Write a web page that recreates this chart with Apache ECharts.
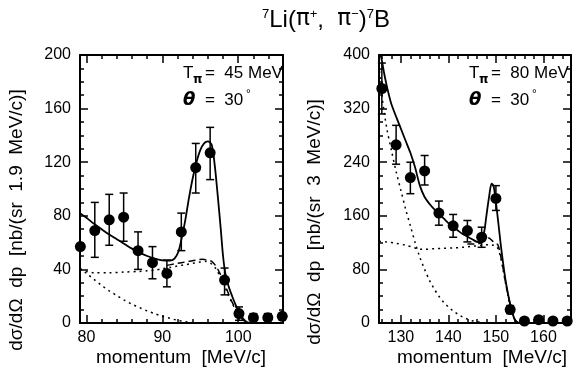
<!DOCTYPE html>
<html>
<head>
<meta charset="utf-8">
<script src="https://cdn.jsdelivr.net/npm/echarts@6/dist/echarts.min.js"></script>
<style>
  html, body { margin: 0; padding: 0; background: #fff; }
  #chart { width: 583px; height: 371px; }
</style>
</head>
<body>
<div id="chart"></div>
<script>
// ---- data ----
// left panel: T_pi = 45 MeV, 1.9 MeV/c bins
const leftMomentum = [79.2, 81.1, 83.0, 84.9, 86.8, 88.7, 90.6, 92.5, 94.4, 96.3, 98.2, 100.1, 102.0, 103.9, 105.8];
const leftCounts   = [57, 69, 77, 79, 54, 45, 37, 68, 116, 127, 32, 7, 4, 4, 5];
const leftErrLo    = [57, 49, 58, 61, 40, 33, 27, 54, 97, 107, 21, 2, 2, 2, 3];
const leftErrHi    = [57, 90, 96, 97, 68, 57, 47, 82, 134, 146, 41, 12, 7, 7, 7];

const leftTotal = [[79.15, 82], [80, 78.5], [81, 74], [82, 70], [83, 66], [84, 62.5], [85, 59], [86, 55.5], [87, 52.5],
  [88, 50], [89, 48], [90, 46.8], [91, 46.5], [91.6, 48], [92.1, 53], [92.5, 62], [93, 76], [93.5, 93], [94, 108],
  [94.5, 120], [95, 129], [95.5, 134], [96, 135.5], [96.5, 133], [96.9, 118], [97.3, 95], [97.7, 70], [98, 50],
  [98.3, 37], [98.7, 28], [99.2, 20], [99.7, 13], [100.2, 7], [100.7, 3], [101.2, 0.5], [101.6, 0]];
const leftDashed = [[90.6, 43], [91.5, 44], [92.5, 45], [93.5, 46], [94.5, 47], [95.3, 47.5], [95.9, 47], [96.5, 46],
  [97, 43], [97.5, 38], [98, 32], [98.5, 25], [99, 18], [99.5, 12], [100, 7], [100.5, 3], [101, 1], [101.5, 0]];
const leftFlat = [[79.15, 40], [80, 38.5], [81, 37.5], [83, 37.5], [85, 38], [87, 38.5], [88, 39], [89, 39.5], [90, 40.5],
  [91, 41.5], [92, 42.5], [93, 43.5], [94, 44.5], [95, 45.5], [95.8, 46], [96.5, 44], [97, 41], [97.5, 36], [98, 30],
  [98.5, 23.5], [99, 17], [99.5, 11.5], [100, 6.5], [100.5, 3], [101, 1], [101.5, 0]];
const leftFalling = [[79.15, 41], [80, 37], [81, 32.5], [82, 28], [83, 24], [84, 20.5], [85, 17], [86, 14], [87, 11.5],
  [88, 9], [89, 7], [90, 5], [91, 3.5], [92, 2], [93, 1], [94, 0.3], [95, 0]];

// right panel: T_pi = 80 MeV, 3 MeV/c bins
const rightMomentum = [126, 129, 132, 135, 138, 141, 144, 147, 150, 153, 156, 159, 162, 165];
const rightCounts   = [350, 266, 217, 227, 164, 145, 138, 128, 186, 20, 3, 5, 3, 3];
const rightErrLo    = [312, 237, 193, 206, 146, 128, 121, 113, 168, 14, 3, 5, 3, 3];
const rightErrHi    = [388, 295, 240, 250, 182, 162, 153, 143, 205, 26, 3, 5, 3, 3];

const rightTotal = [[125.4, 410], [126, 392], [126.5, 372], [127, 355], [127.5, 340], [128, 327], [129, 308], [130, 290],
  [131, 272], [132, 254], [133, 232], [134, 205], [135, 188], [136, 178], [137, 170], [138, 163], [139, 156], [140, 149],
  [141, 143], [142, 138], [143, 133], [144, 129], [145, 125], [146, 121], [146.8, 120], [147.5, 135], [148, 160],
  [148.6, 190], [149.1, 208], [149.5, 205], [150, 180], [150.5, 150], [151, 118], [151.5, 90], [152, 65], [152.5, 45],
  [153, 28], [153.5, 14], [154, 5], [154.5, 1], [155, 0]];
const rightDashed = [[144, 118], [145, 118], [146, 118], [147, 120], [147.8, 124], [148.5, 127], [149.2, 123], [149.8, 119],
  [150.4, 117], [151, 100], [151.5, 82], [152, 62], [152.5, 44], [153, 28], [153.5, 14], [154, 5], [154.5, 1], [155, 0]];
const rightFlat = [[125.4, 122], [127, 121], [129, 119], [131, 116], [133, 112], [134, 110], [135, 110], [137, 111],
  [139, 111.5], [141, 112], [143, 113], [145, 114.5], [147, 116], [148.5, 117], [149.5, 116], [150.3, 113], [151, 98],
  [151.5, 80], [152, 60], [152.5, 42], [153, 26], [153.5, 13], [154, 4.5], [154.5, 1], [155, 0]];
const rightFalling = [[125.4, 385], [126, 340], [127, 292], [128, 258], [129, 226], [130, 198], [131, 170], [132, 145],
  [133, 120], [134, 98], [135, 80], [136, 64], [137, 51], [138, 40], [139, 31], [140, 24], [141, 18], [142, 13],
  [143, 9], [144, 6], [145, 3.5], [146, 2], [147, 1], [148, 0]];

// tick labels
const leftXLabels  = [80, 90, 100];
const leftXMinor   = [80, 82, 84, 86, 88, 90, 92, 94, 96, 98, 100, 102, 104];
const rightXLabels = [130, 140, 150, 160];
const rightXMinor  = [126, 128, 130, 132, 134, 136, 138, 140, 142, 144, 146, 148, 150, 152, 154, 156, 158, 160, 162, 164];

const FONT = 'Liberation Sans, Arial, sans-serif';
const chart = echarts.init(document.getElementById('chart'));

function xAxes(grid, min, max, major, minor) {
  const base = { type: 'value', gridIndex: grid, min: min, max: max, splitLine: { show: false } };
  const line = { show: true, onZero: false, lineStyle: { color: '#000', width: 2 } };
  const noLine = { show: false, onZero: false };
  const tick = (vals, len) => ({ show: true, inside: true, length: len, customValues: vals, lineStyle: { color: '#000', width: 1.5 } });
  return [
    Object.assign({}, base, { position: 'bottom', axisLine: line, axisTick: tick(major, 8),
      axisLabel: { show: true, customValues: major, color: '#000', fontSize: 16, fontFamily: FONT, margin: 7 } }),
    Object.assign({}, base, { position: 'bottom', axisLine: noLine, axisTick: tick(minor, 4), axisLabel: { show: false } }),
    Object.assign({}, base, { position: 'top', axisLine: line, axisTick: tick(major, 8), axisLabel: { show: false } }),
    Object.assign({}, base, { position: 'top', axisLine: noLine, axisTick: tick(minor, 4), axisLabel: { show: false } })
  ];
}

function yAxes(grid, max, interval) {
  const base = {
    type: 'value', gridIndex: grid, min: 0, max: max, interval: interval, splitLine: { show: false },
    axisLine: { show: true, onZero: false, lineStyle: { color: '#000', width: 2 } },
    axisTick: { show: true, inside: true, length: 8, lineStyle: { color: '#000', width: 1.5 } },
    minorTick: { show: true, splitNumber: 4, length: 4, lineStyle: { color: '#000', width: 1.5 } }
  };
  return [
    Object.assign({}, base, { position: 'left',
      axisLabel: { show: true, color: '#000', fontSize: 16, fontFamily: FONT, margin: 9 } }),
    Object.assign({}, base, { position: 'right', axisLabel: { show: false } })
  ];
}

function errorBars(xIdx, yIdx, xs, lo, hi) {
  return {
    type: 'custom', xAxisIndex: xIdx, yAxisIndex: yIdx, clip: false, z: 3,
    data: xs.map((x, i) => [x, lo[i], hi[i]]),
    renderItem: function (params, api) {
      const top = api.coord([api.value(0), api.value(2)]);
      const bot = api.coord([api.value(0), api.value(1)]);
      if (Math.abs(top[1] - bot[1]) < 1) return null;
      const w = 4;
      const st = { stroke: '#000', lineWidth: 1.5 };
      return {
        type: 'group', children: [
          { type: 'line', shape: { x1: top[0], y1: top[1], x2: bot[0], y2: bot[1] }, style: st },
          { type: 'line', shape: { x1: top[0] - w, y1: top[1], x2: top[0] + w, y2: top[1] }, style: st },
          { type: 'line', shape: { x1: bot[0] - w, y1: bot[1], x2: bot[0] + w, y2: bot[1] }, style: st }
        ]
      };
    }
  };
}

function points(xIdx, yIdx, xs, ys) {
  return {
    type: 'scatter', xAxisIndex: xIdx, yAxisIndex: yIdx, clip: false, z: 4,
    symbol: 'circle', symbolSize: 11, itemStyle: { color: '#000', opacity: 1 },
    data: xs.map((x, i) => [x, ys[i]])
  };
}

function curve(xIdx, yIdx, data, dash) {
  return {
    type: 'line', xAxisIndex: xIdx, yAxisIndex: yIdx, data: data, showSymbol: false, smooth: 0.3,
    lineStyle: { color: '#000', width: dash ? 1.5 : 1.8, type: dash || 'solid' }, z: 2, silent: true
  };
}

function txt(x, y, s, size, family, extra) {
  return { type: 'text', x: x, y: y, style: Object.assign({
    text: s, fontSize: size, fontFamily: family || FONT, fill: '#000', verticalAlign: 'middle' }, extra || {}) };
}

// T_pi = .. MeV and theta = 30 deg
function label(x, y, energy) {
  return [
    txt(x, y, 'T', 17),
    txt(x + 10, y + 7, 'π', 12, 'DejaVu Sans', { fontWeight: 'bold' }),
    txt(x + 22, y, '=  ' + energy + ' MeV', 17),
    txt(x, y + 27, 'θ', 18, 'DejaVu Sans', { fontStyle: 'italic', fontWeight: 'bold' }),
    txt(x + 22, y + 27, '=  30', 17),
    txt(x + 63, y + 22, '°', 12)
  ];
}

function yName(x, y, s) {
  return { type: 'text', x: x, y: y, rotation: Math.PI / 2, style: {
    text: s, fontSize: 19, fontFamily: FONT, fill: '#000', align: 'center', verticalAlign: 'middle' } };
}

function xName(x, y) {
  return { type: 'text', x: x, y: y, style: {
    text: 'momentum  [MeV/c]', fontSize: 19, fontFamily: FONT, fill: '#000', align: 'center', verticalAlign: 'middle' } };
}

const option = {
  backgroundColor: '#fff',
  animation: false,
  grid: [
    { left: 80, top: 55, width: 203, height: 268 },
    { left: 379, top: 55, width: 192, height: 268 }
  ],
  xAxis: [].concat(xAxes(0, 79.15, 105.9, leftXLabels, leftXMinor), xAxes(1, 125.4, 165.8, rightXLabels, rightXMinor)),
  yAxis: [].concat(yAxes(0, 200, 40), yAxes(1, 400, 80)),
  graphic: [].concat(
    [{ type: 'text', left: 262, top: 8, style: {
      text: '{s|7}{b|Li(}{p|π}{s|+}{b|,  }{p|π}{s|−}{b|)}{s|7}{b|B}',
      rich: {
        b: { fontSize: 24, fontFamily: FONT, color: '#000', lineHeight: 27, verticalAlign: 'top' },
        p: { fontSize: 23, fontFamily: 'DejaVu Sans', color: '#000', lineHeight: 27, verticalAlign: 'top' },
        s: { fontSize: 13, fontFamily: FONT, color: '#000', lineHeight: 12, verticalAlign: 'top' }
      } } }],
    label(183, 73, 45),
    label(469, 73, 80),
    [yName(17, 220, 'dσ/dΩ  dp  [nb/(sr  1.9  MeV/c)]'),
     yName(315, 222, 'dσ/dΩ  dp  [nb/(sr  3  MeV/c)]'),
     xName(181, 358), xName(482, 358)]
  ),
  series: [
    curve(0, 0, leftFalling, [2, 4]),
    curve(0, 0, leftFlat, [2, 4]),
    curve(0, 0, leftDashed, [7, 4]),
    curve(0, 0, leftTotal),
    errorBars(0, 0, leftMomentum, leftErrLo, leftErrHi),
    points(0, 0, leftMomentum, leftCounts),
    curve(4, 2, rightFalling, [2, 4]),
    curve(4, 2, rightFlat, [2, 4]),
    curve(4, 2, rightDashed, [7, 4]),
    curve(4, 2, rightTotal),
    errorBars(4, 2, rightMomentum, rightErrLo, rightErrHi),
    points(4, 2, rightMomentum, rightCounts)
  ]
};

chart.setOption(option);
</script>
</body>
</html>
